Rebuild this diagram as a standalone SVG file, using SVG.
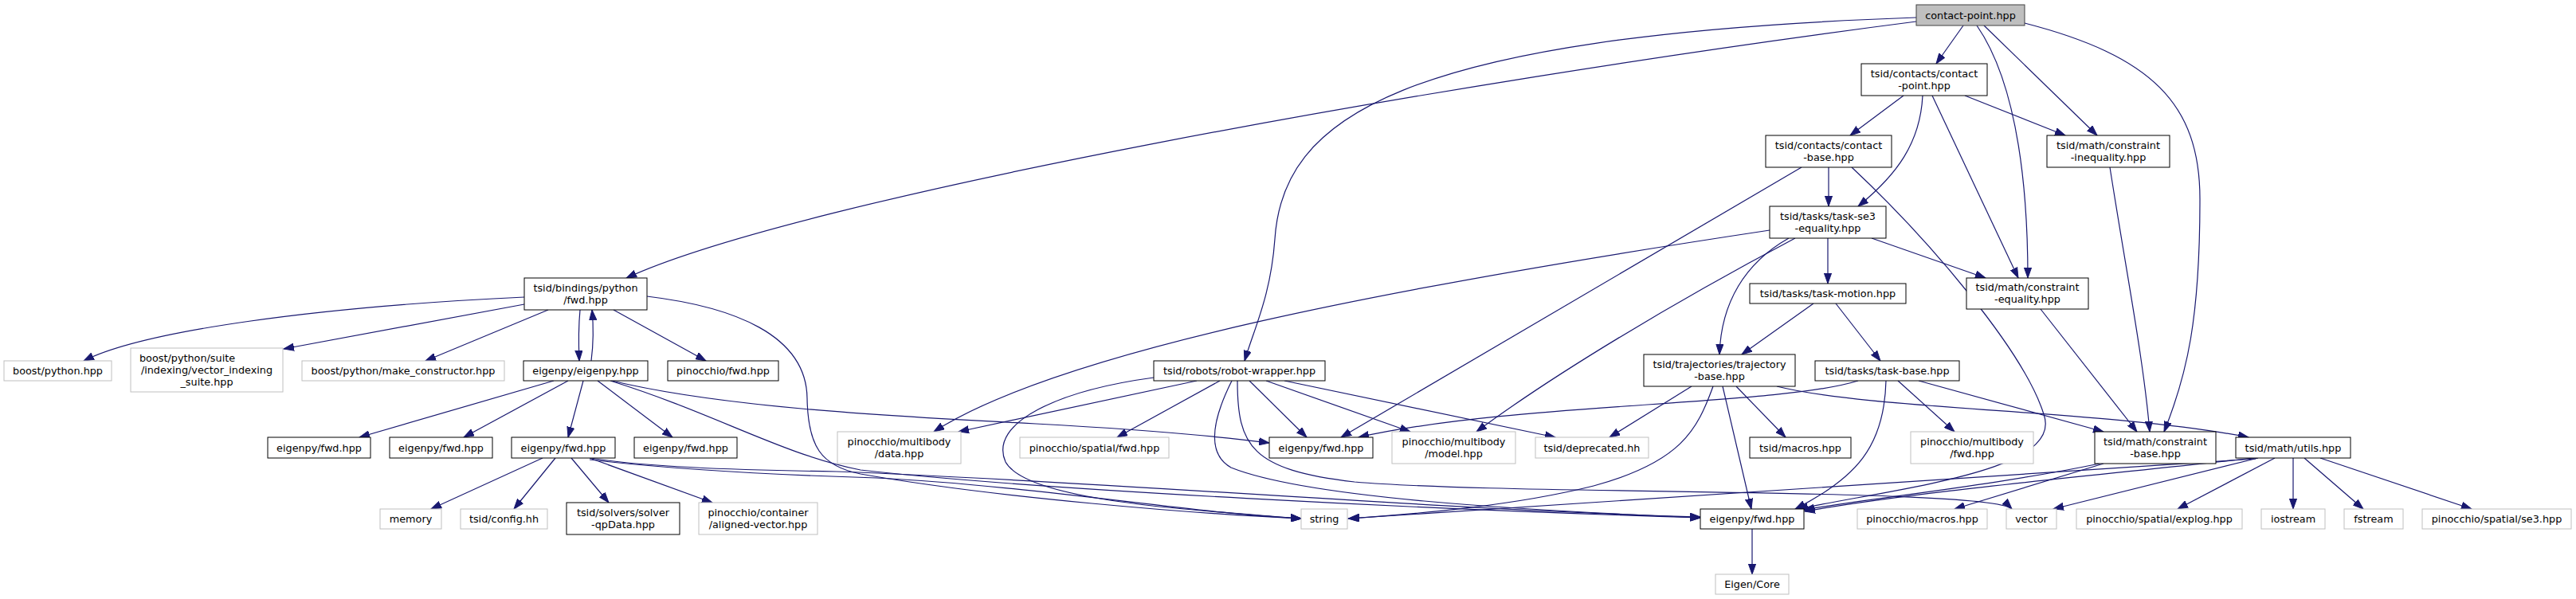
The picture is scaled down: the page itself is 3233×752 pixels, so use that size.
<svg xmlns="http://www.w3.org/2000/svg" width="3233" height="752" viewBox="0 0 3233 752">
<style>
rect.n{fill:#fff;stroke:#000;stroke-width:1}
rect.g{fill:#fff;stroke:#bfbfbf;stroke-width:1}
rect.r{fill:#bfbfbf;stroke:#404040;stroke-width:1}
text{font-family:"DejaVu Sans","Liberation Sans",sans-serif;font-size:12.8px;text-anchor:middle;fill:#000}
#edges path{fill:none;stroke:#191970;stroke-width:1.2;marker-end:url(#a)}
</style>
<defs>
<marker id="a" markerUnits="userSpaceOnUse" markerWidth="14" markerHeight="10" refX="13" refY="5" orient="auto"><path d="M0,0.4L13,5L0,9.6z" fill="#191970" stroke="#191970" stroke-width="1"/></marker>
</defs>
<rect width="3233" height="752" fill="#fff"/>
<g id="edges">
<path d="M2405,27 C1800,105 1000,250 786,349"/>
<path d="M2405,22 C1750,45 1610,150 1600,300 C1595,370 1575,410 1562,453"/>
<path d="M2464,32 L2430,80"/>
<path d="M2490,32 L2632,170"/>
<path d="M2481,32 C2535,110 2545,250 2545,349"/>
<path d="M2541,29 C2700,70 2761,130 2761,250 C2761,400 2745,470 2716,542"/>
<path d="M2389,120 L2322,170"/>
<path d="M2413,120 C2410,180 2380,220 2332,259"/>
<path d="M2466,120 L2592,170"/>
<path d="M2425,120 L2533,349"/>
<path d="M2261,210 L1683,549"/>
<path d="M2295,210 L2295,259"/>
<path d="M2324,210 C2420,300 2540,440 2565,520 C2590,590 2400,610 2256,639"/>
<path d="M2221,289 C1750,360 1330,440 1172,542"/>
<path d="M2253,299 C2100,380 1950,470 1853,542"/>
<path d="M2245,299 C2190,330 2160,380 2158,445"/>
<path d="M2294,299 L2294,356"/>
<path d="M2349,299 L2492,349"/>
<path d="M2276,381 L2186,445"/>
<path d="M2304,381 L2360,453"/>
<path d="M2561,388 L2682,542"/>
<path d="M2648,210 C2670,350 2690,450 2698,542"/>
<path d="M2123,485 L2020,549"/>
<path d="M2150,485 C2130,540 2110,580 2000,610 C1900,635 1780,645 1693,651"/>
<path d="M2162,485 L2198,639"/>
<path d="M2179,485 L2241,549"/>
<path d="M2230,485 C2350,515 2650,515 2822,549"/>
<path d="M2332,478 C2230,510 1900,505 1705,549"/>
<path d="M2367,478 C2365,560 2330,600 2253,639"/>
<path d="M2382,478 L2453,542"/>
<path d="M2408,478 L2640,542"/>
<path d="M2635,582 C2500,610 2350,625 2264,640"/>
<path d="M2640,582 L2453,639"/>
<path d="M2829,575 C2600,600 2400,618 2265,642"/>
<path d="M2831,576 L1692,651"/>
<path d="M2834,575 L2577,639"/>
<path d="M2855,575 L2733,639"/>
<path d="M2878,575 L2878,639"/>
<path d="M2892,575 L2966,639"/>
<path d="M2912,575 L3102,639"/>
<path d="M2199,664 L2199,721"/>
<path d="M658,373 C400,385 180,415 105,453"/>
<path d="M658,382 L356,438"/>
<path d="M688,389 L534,453"/>
<path d="M728,389 C726,410 726,430 727,453"/>
<path d="M742,453 C745,430 745,410 743,389"/>
<path d="M770,389 L886,453"/>
<path d="M812,372 C920,385 1012,420 1013,500 C1014,560 1030,585 1080,595 C1250,625 1500,645 1633,651"/>
<path d="M695,478 L451,549"/>
<path d="M713,478 L582,549"/>
<path d="M732,478 L713,549"/>
<path d="M750,478 L844,549"/>
<path d="M768,478 C900,510 1100,522 1300,532 C1450,540 1530,548 1593,556"/>
<path d="M766,478 C900,520 980,570 1080,590 C1300,615 1800,640 2134,650"/>
<path d="M681,575 L541,639"/>
<path d="M697,575 L645,639"/>
<path d="M717,575 L764,631"/>
<path d="M740,575 L894,631"/>
<path d="M742,575 C800,585 900,590 1050,592 C1400,605 1800,640 2134,649"/>
<path d="M740,577 C850,590 1000,597 1100,600 C1300,610 1500,645 1633,651"/>
<path d="M1448,474 C1330,490 1240,530 1262,580 C1290,630 1500,640 1633,651"/>
<path d="M1502,478 L1203,542"/>
<path d="M1531,478 L1402,549"/>
<path d="M1546,478 C1520,530 1515,570 1545,587 C1640,625 1900,640 2134,650"/>
<path d="M1553,478 C1553,560 1570,590 1700,605 C1900,622 2500,612 2525,639"/>
<path d="M1568,478 L1640,549"/>
<path d="M1589,478 L1770,542"/>
<path d="M1612,478 L1952,549"/>
</g>
<g id="n0"><rect class="r" x="2405" y="6" width="136" height="26"/><text x="2473" y="23.5">contact-point.hpp</text></g>
<g id="n1"><rect class="n" x="2336" y="80" width="158" height="40"/><text x="2415" y="96.7">tsid/contacts/contact</text><text x="2415" y="111.7">-point.hpp</text></g>
<g id="n2"><rect class="n" x="2216" y="170" width="158" height="40"/><text x="2295" y="186.7">tsid/contacts/contact</text><text x="2295" y="201.7">-base.hpp</text></g>
<g id="n3"><rect class="n" x="2569" y="170" width="154" height="40"/><text x="2646" y="186.7">tsid/math/constraint</text><text x="2646" y="201.7">-inequality.hpp</text></g>
<g id="n4"><rect class="n" x="2221" y="259" width="146" height="40"/><text x="2294" y="275.7">tsid/tasks/task-se3</text><text x="2294" y="290.7">-equality.hpp</text></g>
<g id="n5"><rect class="n" x="2196" y="356" width="196" height="25"/><text x="2294" y="373">tsid/tasks/task-motion.hpp</text></g>
<g id="n6"><rect class="n" x="2468" y="349" width="153" height="39"/><text x="2544.5" y="365.2">tsid/math/constraint</text><text x="2544.5" y="380.2">-equality.hpp</text></g>
<g id="n7"><rect class="n" x="658" y="349" width="154" height="40"/><text x="735" y="365.7">tsid/bindings/python</text><text x="735" y="380.7">/fwd.hpp</text></g>
<g id="n8"><rect class="n" x="2063" y="445" width="190" height="40"/><text x="2158" y="461.7">tsid/trajectories/trajectory</text><text x="2158" y="476.7">-base.hpp</text></g>
<g id="n9"><rect class="n" x="2278" y="453" width="181" height="25"/><text x="2368.5" y="470">tsid/tasks/task-base.hpp</text></g>
<g id="n10"><rect class="n" x="1448" y="453" width="215" height="25"/><text x="1555.5" y="470">tsid/robots/robot-wrapper.hpp</text></g>
<g id="n11"><rect class="g" x="5" y="453" width="135" height="25"/><text x="72.5" y="470">boost/python.hpp</text></g>
<g id="n12"><rect class="g" x="164" y="437" width="191" height="55"/><text x="175" y="454" style="text-anchor:start">boost/python/suite</text><text x="259.5" y="469">/indexing/vector_indexing</text><text x="259.5" y="484">_suite.hpp</text></g>
<g id="n13"><rect class="g" x="379" y="453" width="254" height="25"/><text x="506" y="470">boost/python/make_constructor.hpp</text></g>
<g id="n14"><rect class="n" x="657" y="453" width="156" height="25"/><text x="735" y="470">eigenpy/eigenpy.hpp</text></g>
<g id="n15"><rect class="n" x="838" y="453" width="139" height="25"/><text x="907.5" y="470">pinocchio/fwd.hpp</text></g>
<g id="n16"><rect class="n" x="336" y="549" width="129" height="26"/><text x="400.5" y="566.5">eigenpy/fwd.hpp</text></g>
<g id="n17"><rect class="n" x="489" y="549" width="129" height="26"/><text x="553.5" y="566.5">eigenpy/fwd.hpp</text></g>
<g id="n18"><rect class="n" x="642" y="549" width="130" height="26"/><text x="707" y="566.5">eigenpy/fwd.hpp</text></g>
<g id="n19"><rect class="n" x="796" y="549" width="129" height="26"/><text x="860.5" y="566.5">eigenpy/fwd.hpp</text></g>
<g id="n20"><rect class="g" x="1051" y="542" width="155" height="40"/><text x="1128.5" y="558.7">pinocchio/multibody</text><text x="1128.5" y="573.7">/data.hpp</text></g>
<g id="n21"><rect class="g" x="1280" y="549" width="187" height="26"/><text x="1373.5" y="566.5">pinocchio/spatial/fwd.hpp</text></g>
<g id="n22"><rect class="n" x="1593" y="549" width="130" height="26"/><text x="1658" y="566.5">eigenpy/fwd.hpp</text></g>
<g id="n23"><rect class="g" x="1747" y="542" width="155" height="40"/><text x="1824.5" y="558.7">pinocchio/multibody</text><text x="1824.5" y="573.7">/model.hpp</text></g>
<g id="n24"><rect class="g" x="1927" y="549" width="142" height="26"/><text x="1998" y="566.5">tsid/deprecated.hh</text></g>
<g id="n25"><rect class="n" x="2196" y="549" width="127" height="26"/><text x="2259.5" y="566.5">tsid/macros.hpp</text></g>
<g id="n26"><rect class="g" x="2398" y="542" width="154" height="40"/><text x="2475" y="558.7">pinocchio/multibody</text><text x="2475" y="573.7">/fwd.hpp</text></g>
<g id="n27"><rect class="n" x="2629" y="542" width="152" height="40"/><text x="2705" y="558.7">tsid/math/constraint</text><text x="2705" y="573.7">-base.hpp</text></g>
<g id="n28"><rect class="n" x="2806" y="549" width="144" height="26"/><text x="2878" y="566.5">tsid/math/utils.hpp</text></g>
<g id="n29"><rect class="g" x="477" y="639" width="77" height="25"/><text x="515.5" y="656">memory</text></g>
<g id="n30"><rect class="g" x="578" y="639" width="109" height="25"/><text x="632.5" y="656">tsid/config.hh</text></g>
<g id="n31"><rect class="n" x="711" y="631" width="142" height="40"/><text x="782" y="647.7">tsid/solvers/solver</text><text x="782" y="662.7">-qpData.hpp</text></g>
<g id="n32"><rect class="g" x="877" y="631" width="149" height="40"/><text x="951.5" y="647.7">pinocchio/container</text><text x="951.5" y="662.7">/aligned-vector.hpp</text></g>
<g id="n33"><rect class="g" x="1633" y="639" width="58" height="25"/><text x="1662" y="656">string</text></g>
<g id="n34"><rect class="n" x="2134" y="639" width="130" height="25"/><text x="2199" y="656">eigenpy/fwd.hpp</text></g>
<g id="n35"><rect class="g" x="2331" y="639" width="163" height="25"/><text x="2412.5" y="656">pinocchio/macros.hpp</text></g>
<g id="n36"><rect class="g" x="2518" y="639" width="63" height="25"/><text x="2549.5" y="656">vector</text></g>
<g id="n37"><rect class="g" x="2606" y="639" width="208" height="25"/><text x="2710" y="656">pinocchio/spatial/explog.hpp</text></g>
<g id="n38"><rect class="g" x="2838" y="639" width="80" height="25"/><text x="2878" y="656">iostream</text></g>
<g id="n39"><rect class="g" x="2942" y="639" width="74" height="25"/><text x="2979" y="656">fstream</text></g>
<g id="n40"><rect class="g" x="3040" y="639" width="187" height="25"/><text x="3133.5" y="656">pinocchio/spatial/se3.hpp</text></g>
<g id="n41"><rect class="g" x="2153" y="721" width="92" height="25"/><text x="2199" y="738">Eigen/Core</text></g>
</svg>
